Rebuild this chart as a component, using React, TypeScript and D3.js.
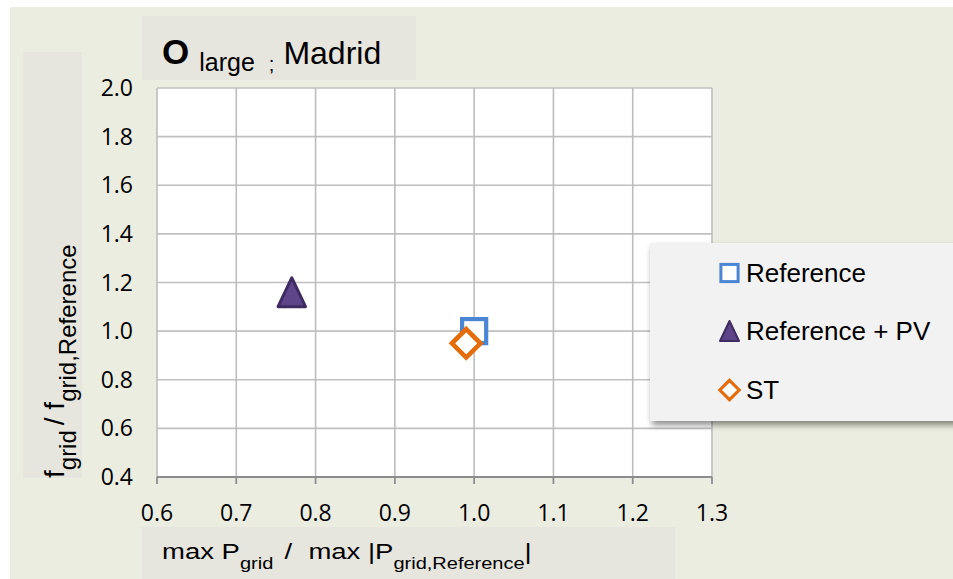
import React from "react";
import * as d3 from "d3";

const seriesNames = ["Reference", "Reference + PV", "ST"];
const xValues = [1.0, 0.77, 0.99];
const yValues = [1.0, 1.16, 0.95];
const xTicks = [0.6, 0.7, 0.8, 0.9, 1.0, 1.1, 1.2, 1.3];
const yTicks = [0.4, 0.6, 0.8, 1.0, 1.2, 1.4, 1.6, 1.8, 2.0];

const W = 953;
const H = 579;
const plot = { left: 157, right: 712, top: 88, bottom: 477 };

const x = d3.scaleLinear().domain([0.6, 1.3]).range([plot.left, plot.right]);
const y = d3.scaleLinear().domain([0.4, 2.0]).range([plot.bottom, plot.top]);

const tickFont = "'Open Sans', sans-serif";
const textFont = "'Liberation Sans', Arial, sans-serif";

function Marker({ kind, cx, cy, s }: { kind: number; cx: number; cy: number; s: number }) {
  if (kind === 0) {
    const h = s * 0.43;
    return (
      <rect x={cx - h} y={cy - h} width={2 * h} height={2 * h} fill="#fff" stroke="#4A86D4" strokeWidth={s * 0.15} />
    );
  }
  if (kind === 1) {
    const h = s * 0.5;
    const p = `M${cx},${cy - h} L${cx + h * 0.95},${cy + h} L${cx - h * 0.95},${cy + h} Z`;
    return <path d={p} fill="#5E4489" stroke="#3E2B60" strokeWidth={s * 0.1} strokeLinejoin="round" />;
  }
  const h = s * 0.46;
  const p = `M${cx},${cy - h} L${cx + h},${cy} L${cx},${cy + h} L${cx - h},${cy} Z`;
  return <path d={p} fill="#fff" stroke="#E46C0A" strokeWidth={s * 0.15} strokeLinejoin="miter" />;
}

export default function App() {
  const legendY = [273, 331, 390];
  return (
    <svg width={W} height={H} style={{ position: "absolute", left: 0, top: 0 }}>
      <defs>
        <filter id="sh" x="-10%" y="-10%" width="130%" height="140%">
          <feGaussianBlur in="SourceAlpha" stdDeviation="3" />
          <feOffset dx="2" dy="4" result="b" />
          <feComponentTransfer>
            <feFuncA type="linear" slope="0.45" />
          </feComponentTransfer>
          <feMerge>
            <feMergeNode />
            <feMergeNode in="SourceGraphic" />
          </feMerge>
        </filter>
      </defs>
      <rect x={0} y={0} width={W} height={H} fill="#fff" />
      <rect x={10} y={7} width={W - 10} height={H - 7} fill="#EBEDE0" />
      {/* panels */}
      <rect x={142} y={16} width={274} height={64} fill="#E6E6DF" />
      <rect x={23} y={52} width={59} height={426} fill="#E6E6DF" />
      <rect x={142} y={527} width={533} height={52} fill="#E6E6DF" />
      {/* plot area */}
      <rect x={plot.left} y={plot.top} width={plot.right - plot.left} height={plot.bottom - plot.top} fill="#fff" />
      {yTicks.map((t) => (
        <line key={"gy" + t} x1={plot.left} x2={plot.right} y1={y(t)} y2={y(t)} stroke="#C0C0C0" strokeWidth={1.6} />
      ))}
      {xTicks.map((t) => (
        <line key={"gx" + t} x1={x(t)} x2={x(t)} y1={plot.top} y2={plot.bottom + 7} stroke="#BDBDBD" strokeWidth={1.6} />
      ))}
      <line x1={plot.left} x2={plot.right} y1={plot.bottom} y2={plot.bottom} stroke="#8C8C8C" strokeWidth={2} />
      {xTicks.map((t) => (
        <line key={"tx" + t} x1={x(t)} x2={x(t)} y1={plot.bottom} y2={plot.bottom + 7} stroke="#8C8C8C" strokeWidth={1.6} />
      ))}
      {/* tick labels */}
      {yTicks.map((t) => (
        <text key={"ly" + t} x={133} y={y(t) + 8} textAnchor="end" fontFamily={tickFont} fontSize={23} fill="#000">
          {t.toFixed(1)}
        </text>
      ))}
      {xTicks.map((t) => (
        <text key={"lx" + t} x={x(t)} y={521} textAnchor="middle" fontFamily={tickFont} fontSize={23} fill="#000">
          {t.toFixed(1)}
        </text>
      ))}
      {/* title */}
      <text x={162} y={64} fontFamily={textFont} fill="#000">
        <tspan fontSize={35} fontWeight="bold">O</tspan>
        <tspan fontSize={25} dx={10} dy={7}>large</tspan>
        <tspan fontSize={20} dx={14}>;</tspan>
        <tspan fontSize={32} dx={9} dy={-7}>Madrid</tspan>
      </text>
      {/* x title */}
      <text transform="translate(162,559) scale(1.25,1)" fontFamily={textFont} fill="#000" fontSize={22}>
        <tspan>max P</tspan>
        <tspan fontSize={16} dy={10}>grid</tspan>
        <tspan dy={-10} dx={9}>/</tspan>
        <tspan dx={13}>max |P</tspan>
        <tspan fontSize={16} dy={10}>grid,Reference</tspan>
        <tspan dy={-10}>|</tspan>
      </text>
      {/* y title */}
      <text transform="translate(64,478) rotate(-90)" fontFamily={textFont} fill="#000" fontSize={28}>
        <tspan>f</tspan>
        <tspan fontSize={24} dy={12}>grid</tspan>
        <tspan dy={-12} dx={5}>/ f</tspan>
        <tspan fontSize={24} dy={12}>grid,Reference</tspan>
      </text>
      {/* data points */}
      {seriesNames.map((n, i) => (
        <Marker key={n} kind={i} cx={x(xValues[i])} cy={y(yValues[i])} s={i === 2 ? 31 : i === 1 ? 29 : 28} />
      ))}
      {/* legend */}
      <rect x={650} y={243} width={320} height={178} fill="#F2F2F2" filter="url(#sh)" />
      {seriesNames.map((n, i) => (
        <g key={"lg" + n}>
          <Marker kind={i} cx={729.5} cy={legendY[i]} s={i === 2 ? 21 : 20} />
          <text x={746} y={legendY[i] + 9} fontFamily={textFont} fontSize={26} fill="#000">
            {n}
          </text>
        </g>
      ))}
    </svg>
  );
}
